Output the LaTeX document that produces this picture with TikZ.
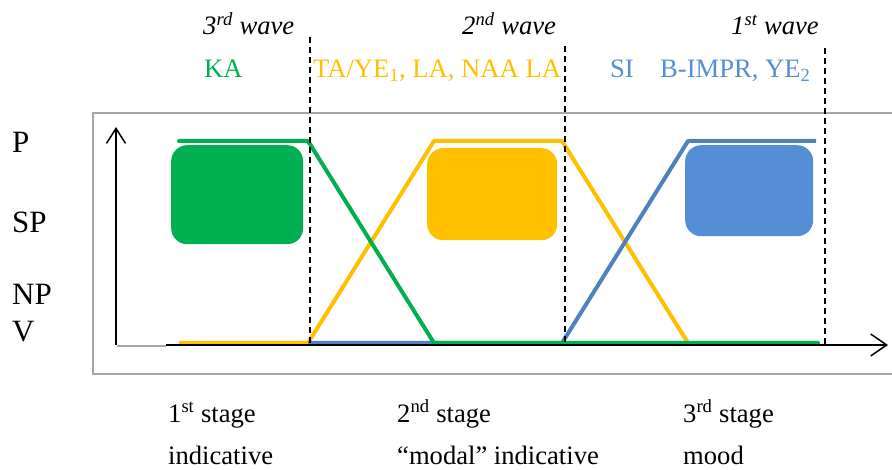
\documentclass[tikz,border=0pt]{standalone}
\usepackage{fontspec}
\setmainfont{Liberation Serif}
\usetikzlibrary{arrows.meta}
\definecolor{cgreen}{HTML}{00B050}
\definecolor{cyellow}{HTML}{FFC000}
\definecolor{cblue}{HTML}{558ED5}
\definecolor{cblueline}{HTML}{4F81BD}
\definecolor{cframe}{HTML}{A6A6A6}
\tikzset{
  lbl/.style={anchor=base west,inner sep=0pt,font=\fontsize{26.6}{30}\selectfont},
  ylbl/.style={lbl,font=\fontsize{31}{34}\selectfont},
  wave/.style={lbl,font=\fontsize{26.6}{30}\selectfont\itshape},
  box/.style={rounded corners=16pt,draw=none,inner sep=0pt,anchor=north west},
  curve/.style={line width=4pt,line join=round},
  divider/.style={black,line width=1.6pt,dash pattern=on 6pt off 4pt},
  axis/.style={black,line width=1.5pt}
}
\begin{document}
\begin{tikzpicture}[x=1pt,y=-1pt]
\useasboundingbox (0,0) rectangle (892,470);
% frame
\draw[cframe,line width=1.5pt] (892,113) -- (93,113) -- (93,374) -- (892,374);
% boxes
\node[box,fill=cgreen,minimum width=132pt,minimum height=99pt] (gbox) at (171,145) {};
\node[box,fill=cyellow,minimum width=130pt,minimum height=92pt] (ybox) at (427,148) {};
\node[box,fill=cblue,minimum width=128pt,minimum height=91pt] (bbox) at (685,145) {};
% curves
\coordinate (y0) at (179,343); \coordinate (y1) at (308,343); \coordinate (y2) at (434,141);
\coordinate (y3) at (562,141); \coordinate (y4) at (688,343); \coordinate (y5) at (818,343);
\draw[curve,cyellow] (y0) -- (y1) -- (y2) -- (y3) -- (y4) -- (y5);
\coordinate (b0) at (308,343); \coordinate (b1) at (562,343); \coordinate (b2) at (688,141); \coordinate (b3) at (816,141);
\draw[curve,cblueline] (b0) -- (b1) -- (b2) -- (b3);
\coordinate (g0) at (179,141); \coordinate (g1) at (308,141); \coordinate (g2) at (434,343); \coordinate (g3) at (818,343);
\draw[curve,cgreen,line cap=round] (g0) -- (g1) -- (g2) -- (g3);
% axes
\coordinate (o) at (116,345); \coordinate (ytop) at (116,127); \coordinate (xend) at (888,345);
\coordinate (gstart) at (117,346); \coordinate (gend) at (166,346);
\draw[cframe,line width=1.5pt] (gstart) -- (gend);
\draw[axis,-{Straight Barb[length=15pt,width=19pt]}] (o) -- (ytop);
\draw[axis,-{Straight Barb[length=16pt,width=22pt]}] (gend |- o) -- (xend);
% dividers
\coordinate (d1t) at (310,37); \coordinate (d1b) at (310,345);
\coordinate (d2t) at (565,46); \coordinate (d2b) at (565,345);
\coordinate (d3t) at (825,48); \coordinate (d3b) at (825,345);
\draw[divider] (d1t) -- (d1b);
\draw[divider] (d2t) -- (d2b);
\draw[divider] (d3t) -- (d3b);
% y labels
\node[ylbl] (lp) at (12,153) {P};
\node[ylbl] (lsp) at (12,233) {SP};
\node[ylbl] (lnp) at (12,305) {NP};
\node[ylbl] (lv) at (12,342) {V};
% wave labels
\node[wave] (w3) at (203,35) {3\textsuperscript{rd} wave};
\node[wave] (w2) at (462,35) {2\textsuperscript{nd} wave};
\node[wave] (w1) at (731,35) {1\textsuperscript{st} wave};
% morpheme labels
\node[lbl,text=cgreen] (ka) at (204,78) {KA};
\node[lbl,text=cyellow] (ta) at (313,78) {TA/YE\textsubscript{1}, LA, NAA LA};
\node[lbl,text=cblue] (si) at (610,78) {SI};
\node[lbl,text=cblue] (bi) at (660,78) {B-IMPR, YE\textsubscript{2}};
% stage labels
\node[lbl] (s1) at (168,422) {1\textsuperscript{st} stage};
\node[lbl] (s1b) at (168,464) {indicative};
\node[lbl] (s2) at (397,422) {2\textsuperscript{nd} stage};
\node[lbl] (s2b) at (397,464) {``modal'' indicative};
\node[lbl] (s3) at (683,422) {3\textsuperscript{rd} stage};
\node[lbl] (s3b) at (683,464) {mood};
\end{tikzpicture}
\end{document}
